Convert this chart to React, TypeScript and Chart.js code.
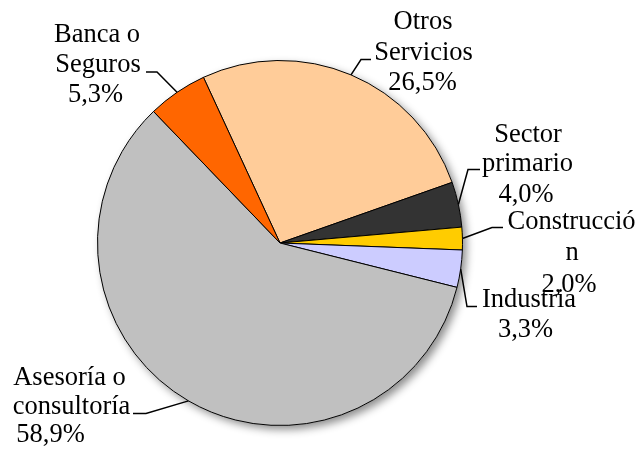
import React, { useEffect, useRef } from "react";
import { Chart, registerables } from "chart.js";

Chart.register(...registerables);

// ---- data ----
const categories = ["Otros Servicios", "Sector primario", "Construcción", "Industria", "Asesoría o consultoría", "Banca o Seguros"];
const shares = [26.5, 4.0, 2.0, 3.3, 58.9, 5.3];
const sliceColors = ["#FFCC99", "#333333", "#FFCC00", "#CCCCFF", "#C0C0C0", "#FF6600"];
const labelLines = [
  ["Otros", "Servicios", "26,5%"],
  ["Sector", "primario", "4,0%"],
  ["Construcció", "n", "2,0%"],
  ["Industria", "3,3%"],
  ["Asesoría o", "consultoría", "58,9%"],
  ["Banca o", "Seguros", "5,3%"],
];

// ---- label layout (text centres / baselines and leader elbows) ----
const labelLayout = [
  { xs: [423, 423.5, 422.5], ys: [28.5, 59.5, 90], lead: [371, 361, 59.5] },
  { xs: [528, 527.5, 526], ys: [141.5, 171, 201.5], lead: [480, 468, 169.5] },
  { xs: [571.5, 572, 569], ys: [228.5, 260, 291.5], lead: [503, 492, 227.5] },
  { xs: [529, 525.5], ys: [307, 337], lead: [477, 467, 306.5] },
  { xs: [69.5, 71.5, 50.5], ys: [385, 414, 442], lead: [133, 146, 413.5] },
  { xs: [97, 98, 95.5], ys: [41.5, 72, 102], lead: [146, 157, 72] },
];

const FONT = 'normal 26.5px "Liberation Serif", "Times New Roman", Times, serif';

const shadowPlugin = {
  id: "pieShadow",
  beforeDatasetsDraw(chart: any) {
    const meta = chart.getDatasetMeta(0);
    const arc = meta.data[0];
    if (!arc) return;
    const { x, y, outerRadius } = arc.getProps(["x", "y", "outerRadius"], true);
    const ctx = chart.ctx;
    ctx.save();
    ctx.shadowColor = "rgba(0,0,0,0.45)";
    ctx.shadowBlur = 9;
    ctx.shadowOffsetX = 4;
    ctx.shadowOffsetY = 4;
    ctx.beginPath();
    ctx.arc(x, y, outerRadius, 0, Math.PI * 2);
    ctx.fillStyle = "#ffffff";
    ctx.fill();
    ctx.restore();
  },
};

const labelPlugin = {
  id: "pieLabels",
  afterDatasetsDraw(chart: any) {
    const ctx = chart.ctx;
    const meta = chart.getDatasetMeta(0);
    ctx.save();
    meta.data.forEach((arc: any, i: number) => {
      const { x, y, startAngle, endAngle, outerRadius } = arc.getProps(
        ["x", "y", "startAngle", "endAngle", "outerRadius"],
        true
      );
      const mid = (startAngle + endAngle) / 2;
      const ex = x + Math.cos(mid) * outerRadius;
      const ey = y + Math.sin(mid) * outerRadius;
      const [x0, x1, ly] = labelLayout[i].lead;
      ctx.beginPath();
      ctx.moveTo(x0, ly);
      ctx.lineTo(x1, ly);
      ctx.lineTo(ex, ey);
      ctx.strokeStyle = "#000000";
      ctx.lineWidth = 1.5;
      ctx.stroke();
    });
    ctx.font = FONT;
    ctx.fillStyle = "#000000";
    ctx.textAlign = "center";
    ctx.textBaseline = "alphabetic";
    labelLines.forEach((lines, i) => {
      const lay = labelLayout[i];
      lines.forEach((t, j) => {
        ctx.fillText(t, lay.xs[j], lay.ys[j]);
      });
    });
    ctx.restore();
  },
};

export default function App() {
  const ref = useRef<HTMLCanvasElement | null>(null);
  useEffect(() => {
    if (!ref.current) return;
    const chart = new Chart(ref.current, {
      type: "pie",
      data: {
        labels: categories,
        datasets: [
          {
            data: shares,
            backgroundColor: sliceColors,
            borderColor: "#000000",
            borderWidth: 1,
          },
        ],
      },
      options: {
        responsive: false,
        animation: false,
        rotation: -24.8,
        layout: { padding: { left: 97, top: 60, right: 177, bottom: 26 } },
        plugins: {
          legend: { display: false },
          tooltip: { enabled: false },
        },
      },
      plugins: [shadowPlugin, labelPlugin],
    });
    let alive = true;
    const fonts: any = (document as any).fonts;
    if (fonts && fonts.load) {
      fonts.load(FONT, "Asesoría").then(() => {
        if (alive) chart.draw();
      }).catch(() => {});
    }
    return () => {
      alive = false;
      chart.destroy();
    };
  }, []);
  return (
    <div style={{ position: "absolute", left: 0, top: 0, width: 640, height: 452, background: "#ffffff" }}>
      <span style={{ position: "absolute", left: -9999, top: 0, fontFamily: '"Liberation Serif"', fontSize: 26 }}>Asesoría</span>
      <canvas ref={ref} width={640} height={452} />
    </div>
  );
}
